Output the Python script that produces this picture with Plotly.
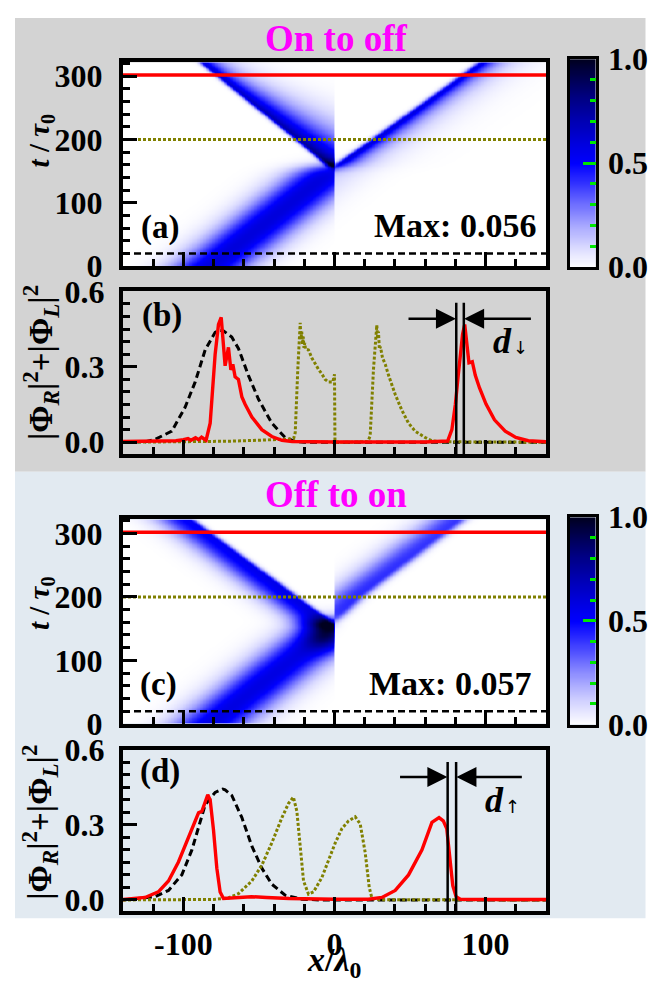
import numpy as np
import plotly.graph_objects as go

W, H = 668, 996
def px(x): return x / W
def py(y): return 1 - y / H

FONT = "Liberation Serif"
RED, OLIVE, BLACK, GREEN = "#ff0000", "#808000", "#000000", "#00e600"
GRAY_BG, BLUE_BG = "#d3d3d3", "#e2eaf1"

# ---------------- line profiles, panel (b)  (t = 20 dashed, t = 200 dotted, t = 300 red)
B_BLACK_X = [-140, -125, -118.7, -107.7, -98.9, -92.2, -85.6, -79, -76, -73.5, -68, -63.6, -57, -50.3, -41.5, -32.7, -26, -20, 140]
B_BLACK_Y = [0, 0.002, 0.012, 0.044, 0.139, 0.24, 0.367, 0.437, 0.445, 0.443, 0.418, 0.373, 0.266, 0.171, 0.076, 0.019, 0.003, 0, 0]

B_OLIVE_X = [-140, -100, -70, -50, -40, -30, -27, -26, -24.3, -22.7, -22.2, -21.7, -21.2, -20.7, -20.2, -19.7, -19.2, -17.2, -15, -12.8,
             -10.6, -8.4, -6.2, -4, -1.1, 0, 0.3, 10, 20, 22, 23.6, 25.8, 28, 28.5, 29.1, 29.7, 30.4, 31.8, 33.6, 35.8, 40.2, 44.6,
             49, 53.4, 60, 64.5, 70, 140]
B_OLIVE_Y = [0, 0.001, 0.004, 0.008, 0.01, 0.013, 0.016, 0.038, 0.29, 0.475, 0.41, 0.44, 0.39, 0.42, 0.375, 0.395, 0.37, 0.367, 0.335, 0.31,
             0.29, 0.272, 0.25, 0.24, 0.24, 0.27, 0.0, 0, 0, 0.003, 0.025, 0.29, 0.466, 0.42, 0.44, 0.37, 0.38, 0.335, 0.31, 0.266, 0.19, 0.127,
             0.076, 0.044, 0.019, 0.006, 0.002, 0]

B_RED_X = [-140, -120, -105, -100, -97, -95, -92, -90, -88, -86, -85, -82.3, -79, -76.8, -75, -72.4, -70.2, -68.6, -67.3, -65.8,
           -63.6, -61.3, -59.1, -54.7, -48.1, -41.5, -34.8, -28, -20, 0, 60, 70, 74.9, 77.7, 80, 81.9, 84.8, 86.2, 89, 91.2, 93.2,
           96, 100.3, 105.9, 113, 120, 128.3, 140]
B_RED_Y = [0.003, 0.004, 0.006, 0.01, 0.015, 0.008, 0.018, 0.01, 0.02, 0.012, 0.008, 0.076, 0.35, 0.468, 0.496, 0.304, 0.377, 0.288, 0.31, 0.26,
           0.25, 0.18, 0.15, 0.10, 0.05, 0.023, 0.008, 0.003, 0.002, 0.001, 0.001, 0.002, 0.005, 0.05, 0.15, 0.266, 0.43, 0.468, 0.316, 0.32, 0.266,
           0.216, 0.152, 0.089, 0.044, 0.019, 0.006, 0.002]

# ---------------- line profiles, panel (d)
D_BLACK_X = [-140, -118.7, -109.9, -101, -94.4, -90, -85.6, -79, -74, -72.4, -68, -61.3, -54.7, -48.1, -41.5, -32.7, -21.6, -10, 140]
D_BLACK_Y = [0, 0.013, 0.038, 0.101, 0.2, 0.29, 0.38, 0.43, 0.443, 0.44, 0.418, 0.329, 0.215, 0.127, 0.063, 0.019, 0.003, 0, 0]

D_OLIVE_X = [-140, -80, -70.2, -63.6, -54.7, -48.1, -41.5, -34.8, -30.4, -27.2, -24.9, -22.7, -20.5, -17.2, -13.9, -8.4, -1.7, 0.5,
             4.9, 9.3, 13.7, 17, 20.3, 23, 24.8, 30, 140]
D_OLIVE_Y = [0, 0.002, 0.008, 0.025, 0.076, 0.139, 0.228, 0.329, 0.386, 0.411, 0.354, 0.203, 0.076, 0.023, 0.032, 0.089, 0.19, 0.228,
             0.285, 0.316, 0.332, 0.304, 0.19, 0.05, 0.006, 0.001, 0]

D_RED_X = [-140, -125.4, -116.6, -109.9, -103.3, -96.7, -92.2, -90, -87.8, -85.6, -83.9, -82.3, -80.1, -77.9, -75.7, -73.5, -65, -55,
           -45, -30, 0, 22.5, 31.4, 40.2, 49, 57.9, 64.5, 69.2, 72, 74.3, 76.3, 78.3, 80.5, 83.3, 100, 140]
D_RED_Y = [0.002, 0.01, 0.032, 0.076, 0.152, 0.253, 0.316, 0.348, 0.354, 0.392, 0.42, 0.40, 0.28, 0.127, 0.032, 0.006, 0.01, 0.013,
           0.01, 0.006, 0.003, 0.003, 0.01, 0.038, 0.1, 0.2, 0.31, 0.329, 0.316, 0.285, 0.171, 0.057, 0.013, 0.003, 0.002, 0.002]

# ---------------- space-time maps: beam tracks
INC_T = [0, 322]          # incident pulse centre track (both maps)
INC_X = [-82.5, 88.2]
INC_SIGMA = 18

A_INC_AMP, A_INC_END, A_INC_LEAK = 0.6, 160, 0.18
A_REF_T = [156, 200, 300, 322]; A_REF_X = [0, -22.7, -75, -86.5]
A_REF_AMP = [0.85, 0.75, 0.62, 0.6]; A_REF_TAIL = [30, 28, 13, 12]; A_REF_EDGE = 2.5
A_TRA_T = [156, 200, 300, 322]; A_TRA_X = [0, 27, 85.5, 98]
A_TRA_AMP = [0.62, 0.62, 0.57, 0.57]; A_TRA_TAIL = [12, 12, 12, 12]; A_TRA_EDGE = 3

C_INC_AMP, C_INC_END = 0.58, 165
C_BLOB = [-6, 140, 10, 17, 0.34]   # x, t, sx, st, amp
C_REF_T = [152, 200, 300, 322]; C_REF_X = [0, -27.2, -84, -96.5]
C_REF_AMP = [0.58, 0.57, 0.52, 0.52]; C_REF_SL, C_REF_SR = 15, 3
C_TRA_T = [160, 200, 300, 322]; C_TRA_X = [-4, 13.7, 69.2, 81.4]
C_TRA_AMP = [0.42, 0.42, 0.4, 0.4]; C_TRA_SL, C_TRA_SR = 15, 4.5

MAX_TEXT = ["Max: 0.056", "Max: 0.057"]
T_MARKS = [20, 200, 302]

XG = np.arange(-140, 140.5, 1.0)
TG = np.arange(0, 323, 2.0)
X, T = np.meshgrid(XG, TG)

def sig(v):
    return 1.0 / (1.0 + np.exp(-v))

def ridge(tk, xk, ak, left, right, left_exp=False, right_exp=False):
    xc = np.interp(T, tk, xk)
    A = np.interp(T, tk, ak)
    d = X - xc
    def side(dd, s, e):
        if e:
            return np.exp(-np.abs(dd) / s)
        return np.exp(-dd ** 2 / (2 * s ** 2))
    return A * np.where(d < 0, side(d, left, left_exp), side(d, right, right_exp))

inc_c = np.interp(T, INC_T, INC_X)
inc_g = np.exp(-(X - inc_c) ** 2 / (2 * INC_SIGMA ** 2))

# map (a)
za = A_INC_AMP * inc_g * sig(-(T - A_INC_END) / 5) * np.where(X < 0, 1.0, A_INC_LEAK)
za += ridge(A_REF_T, A_REF_X, A_REF_AMP, A_REF_EDGE, np.interp(T, A_REF_T, A_REF_TAIL), right_exp=True) * sig((T - 156) / 2) * (X < 0)
za += ridge(A_TRA_T, A_TRA_X, A_TRA_AMP, A_TRA_EDGE, np.interp(T, A_TRA_T, A_TRA_TAIL), right_exp=True) * sig((T - 156) / 4) * (X >= 0)
za = np.clip(za, 0, 1)

# map (c)
bx, bt, bsx, bst, bamp = C_BLOB
zc = C_INC_AMP * inc_g * sig(-(T - C_INC_END) / 6) * (X < 0)
zc += bamp * np.exp(-((X - bx) ** 2 / (2 * bsx ** 2) + (T - bt) ** 2 / (2 * bst ** 2))) * (X < 0)
zc += ridge(C_REF_T, C_REF_X, C_REF_AMP, C_REF_SL, C_REF_SR) * sig((T - 152) / 4) * (X < 0)
zc += ridge(C_TRA_T, C_TRA_X, C_TRA_AMP, C_TRA_SL, C_TRA_SR) * sig((T - 160) / 5) * (X >= 0)
zc = np.clip(zc, 0, 1)

CSCALE = [[0.0, "#ffffff"], [0.1, "#d8d8ff"], [0.2, "#a8a8ff"], [0.3, "#7070ff"], [0.4, "#3535ff"],
          [0.5, "#0000ff"], [0.6, "#0000dc"], [0.7, "#0000b4"], [0.8, "#00008a"], [0.9, "#000058"], [1.0, "#000020"]]
CB_LEVELS = [i / 100 for i in range(101)]
CB_TICKS = [0, 0.5, 1.0]
CB_TEXT = ["0.0", "0.5", "1.0"]

XDOM = [px(123), px(546)]
CB_XDOM = [px(570), px(595.5)]
YDOM = {"a": [py(257.5), py(46)], "b": [py(452.7), py(283.3)], "c": [py(732.3), py(520.3)], "d": [py(926.7), py(759)]}
CB_YDOM = {"a": [py(258.3), py(42.7)], "c": [py(733), py(518)]}

tickfont = dict(family=FONT, size=32, color="black", weight="bold")

fig = go.Figure()
fig.add_trace(go.Heatmap(x=XG, y=TG, z=np.round(za, 3), colorscale=CSCALE, zmin=0, zmax=1, zsmooth="best",
                         showscale=False, xaxis="x", yaxis="y", hoverinfo="skip"))
fig.add_trace(go.Heatmap(x=XG, y=TG, z=np.round(zc, 3), colorscale=CSCALE, zmin=0, zmax=1, zsmooth="best",
                         showscale=False, xaxis="x3", yaxis="y3", hoverinfo="skip"))
# colour bars drawn as one-column maps
for xa, ya in (("x5", "y5"), ("x6", "y6")):
    fig.add_trace(go.Heatmap(x=[0], y=CB_LEVELS, z=[[v] for v in CB_LEVELS], colorscale=CSCALE, zmin=0, zmax=1,
                             zsmooth="best", showscale=False, xaxis=xa, yaxis=ya, hoverinfo="skip"))

mark_styles = [dict(color=BLACK, width=2.5, dash="7px,4px"), dict(color=OLIVE, width=3, dash="3px,2px"), dict(color=RED, width=3.5)]
for xa, ya in (("x", "y"), ("x3", "y3")):
    for tv, st in zip(T_MARKS, mark_styles):
        fig.add_trace(go.Scatter(x=[-140, 140], y=[tv, tv], mode="lines", line=st, xaxis=xa, yaxis=ya, hoverinfo="skip"))

for xa, ya, bl, ol, rd in (("x2", "y2", (B_BLACK_X, B_BLACK_Y), (B_OLIVE_X, B_OLIVE_Y), (B_RED_X, B_RED_Y)),
                           ("x4", "y4", (D_BLACK_X, D_BLACK_Y), (D_OLIVE_X, D_OLIVE_Y), (D_RED_X, D_RED_Y))):
    fig.add_trace(go.Scatter(x=bl[0], y=bl[1], mode="lines", line=dict(color=BLACK, width=3, dash="7px,4px"), xaxis=xa, yaxis=ya))
    fig.add_trace(go.Scatter(x=ol[0], y=ol[1], mode="lines", line=dict(color=OLIVE, width=3, dash="3px,2px"), xaxis=xa, yaxis=ya))
    fig.add_trace(go.Scatter(x=rd[0], y=rd[1], mode="lines", line=dict(color=RED, width=3.4), xaxis=xa, yaxis=ya))

def frame():
    return dict(showline=True, linewidth=4, linecolor="black", mirror=True, showgrid=False, zeroline=False)

def xaxis(anchor, labels):
    return dict(domain=XDOM, anchor=anchor, range=[-140, 140],
                tickmode="array", tickvals=[-100, 0, 100], ticktext=["-100", "0", "100"], showticklabels=labels,
                ticks="inside", ticklen=14, tickwidth=3, tickcolor="black",
                minor=dict(tick0=0, dtick=20, ticks="inside", ticklen=7, tickwidth=3, tickcolor="black"),
                tickfont=tickfont, ticklabelstandoff=1, **frame())

def ymap(key, anchor):
    return dict(domain=YDOM[key], anchor=anchor, range=[0, 322],
                tickmode="array", tickvals=[0, 100, 200, 300], ticktext=["0", "100", "200", "300"],
                ticks="inside", ticklen=14, tickwidth=3, tickcolor="black",
                minor=dict(tick0=0, dtick=20, ticks="inside", ticklen=7, tickwidth=3, tickcolor="black"),
                tickfont=tickfont, ticklabelstandoff=10, **frame())

def yprof(key, anchor, rng):
    return dict(domain=YDOM[key], anchor=anchor, range=rng,
                tickmode="array", tickvals=[0, 0.3, 0.6], ticktext=["0.0", "0.3", "0.6"],
                ticks="inside", ticklen=14, tickwidth=3, tickcolor="black",
                minor=dict(tick0=0, dtick=0.05, ticks="inside", ticklen=7, tickwidth=3, tickcolor="black"),
                tickfont=tickfont, ticklabelstandoff=8, **frame())

def cbx(anchor):
    return dict(domain=CB_XDOM, anchor=anchor, range=[-0.5, 0.5], showticklabels=False, ticks="",
                showline=True, linewidth=3, linecolor="black", mirror=True, showgrid=False, zeroline=False)

def cby(key, anchor):
    return dict(domain=CB_YDOM[key], anchor=anchor, range=[0, 1], side="right",
                tickmode="array", tickvals=CB_TICKS, ticktext=CB_TEXT,
                ticks="inside", ticklen=13, tickwidth=2.5, tickcolor=GREEN,
                minor=dict(tick0=0, dtick=0.1, ticks="inside", ticklen=6, tickwidth=2.5, tickcolor=GREEN),
                showline=True, linewidth=3, linecolor="black", mirror=True, showgrid=False, zeroline=False,
                tickfont=tickfont, ticklabelstandoff=3)

shapes = [
    dict(type="rect", xref="paper", yref="paper", x0=px(15), x1=px(645.5), y0=py(470.7), y1=1, fillcolor=GRAY_BG, line_width=0, layer="below"),
    dict(type="rect", xref="paper", yref="paper", x0=px(15), x1=px(645.5), y0=py(934), y1=py(470.7), fillcolor=BLUE_BG, line_width=0, layer="below"),
]

D_LINES = {"b": ([80.6, 85.6], 0.555, -0.048), "d": ([74.9, 80.5], 0.551, -0.045)}
for key, (xs, ytop, ybot) in D_LINES.items():
    xr, yr = ("x2", "y2") if key == "b" else ("x4", "y4")
    for xv in xs:
        shapes.append(dict(type="line", xref=xr, yref=yr, x0=xv, x1=xv, y0=ybot, y1=ytop, line=dict(color="black", width=2.5)))

ann = []
def text(x, y, s, size, color="black", angle=0, xanchor="center", family=FONT):
    ann.append(dict(x=px(x), y=py(y), xref="paper", yref="paper", text=s, showarrow=False, textangle=angle,
                    font=dict(family=family, size=size, color=color), xanchor=xanchor, yanchor="middle"))

text(336, 21, "<b>On to off</b>", 37, "#ff00ff")
text(336, 494, "<b>Off to on</b>", 37, "#ff00ff")
text(160, 217, "<b>(a)</b>", 33)
text(162, 309, "<b>(b)</b>", 33)
text(158, 692, "<b>(c)</b>", 33)
text(160, 782, "<b>(d)</b>", 33)
text(538, 215, "<b>" + MAX_TEXT[0] + "</b>", 34, xanchor="right")
text(533, 690, "<b>" + MAX_TEXT[1] + "</b>", 34, xanchor="right")
text(514, 335, "<b><i>d</i></b>", 36, xanchor="right")
text(511, 342, "↓", 18, xanchor="left", family="DejaVu Sans")
text(506, 811, "<b><i>d</i></b>", 36, xanchor="right")
text(503, 818, "↑", 18, xanchor="left", family="DejaVu Sans")
tlab = "<b><i>t</i> / <i>τ</i><sub>0</sub></b>"
text(41, 127, tlab, 29, angle=-90)
text(41, 607, tlab, 29, angle=-90)
plab = "<b>|Φ<sub><i>R</i></sub>|<sup>2</sup>+|Φ<sub><i>L</i></sub>|<sup>2</sup></b>"
text(40, 358, plab, 33, angle=-90)
text(40, 835, plab, 33, angle=-90)
text(334, 979, "<b><i>x</i>/<i>λ</i><sub>0</sub></b>", 34)

ARROWS = {"b": [(80.4, 48, 0.491), (85.8, 131, 0.491)], "d": [(74.7, 42.4, 0.491), (80.7, 125, 0.491)]}
for key, lst in ARROWS.items():
    xr, yr = ("x2", "y2") if key == "b" else ("x4", "y4")
    for tip, tail, yv in lst:
        ann.append(dict(x=tip, y=yv, ax=tail, ay=yv, xref=xr, yref=yr, axref=xr, ayref=yr, text="", showarrow=True,
                        arrowhead=2, arrowsize=1.6, arrowwidth=2.5, arrowcolor="black"))

fig.update_layout(
    width=W, height=H, margin=dict(l=0, r=0, t=0, b=0), paper_bgcolor="white", plot_bgcolor="rgba(0,0,0,0)",
    showlegend=False, shapes=shapes, annotations=ann,
    xaxis=xaxis("y", False), xaxis2=xaxis("y2", False), xaxis3=xaxis("y3", False), xaxis4=xaxis("y4", True),
    yaxis=ymap("a", "x"), yaxis2=yprof("b", "x2", [-0.048, 0.601]), yaxis3=ymap("c", "x3"), yaxis4=yprof("d", "x4", [-0.045, 0.601]),
    xaxis5=cbx("y5"), yaxis5=cby("a", "x5"), xaxis6=cbx("y6"), yaxis6=cby("c", "x6"),
)
fig.write_html("out.html", config={"displayModeBar": False}, post_script="document.body.style.margin='0px';")
